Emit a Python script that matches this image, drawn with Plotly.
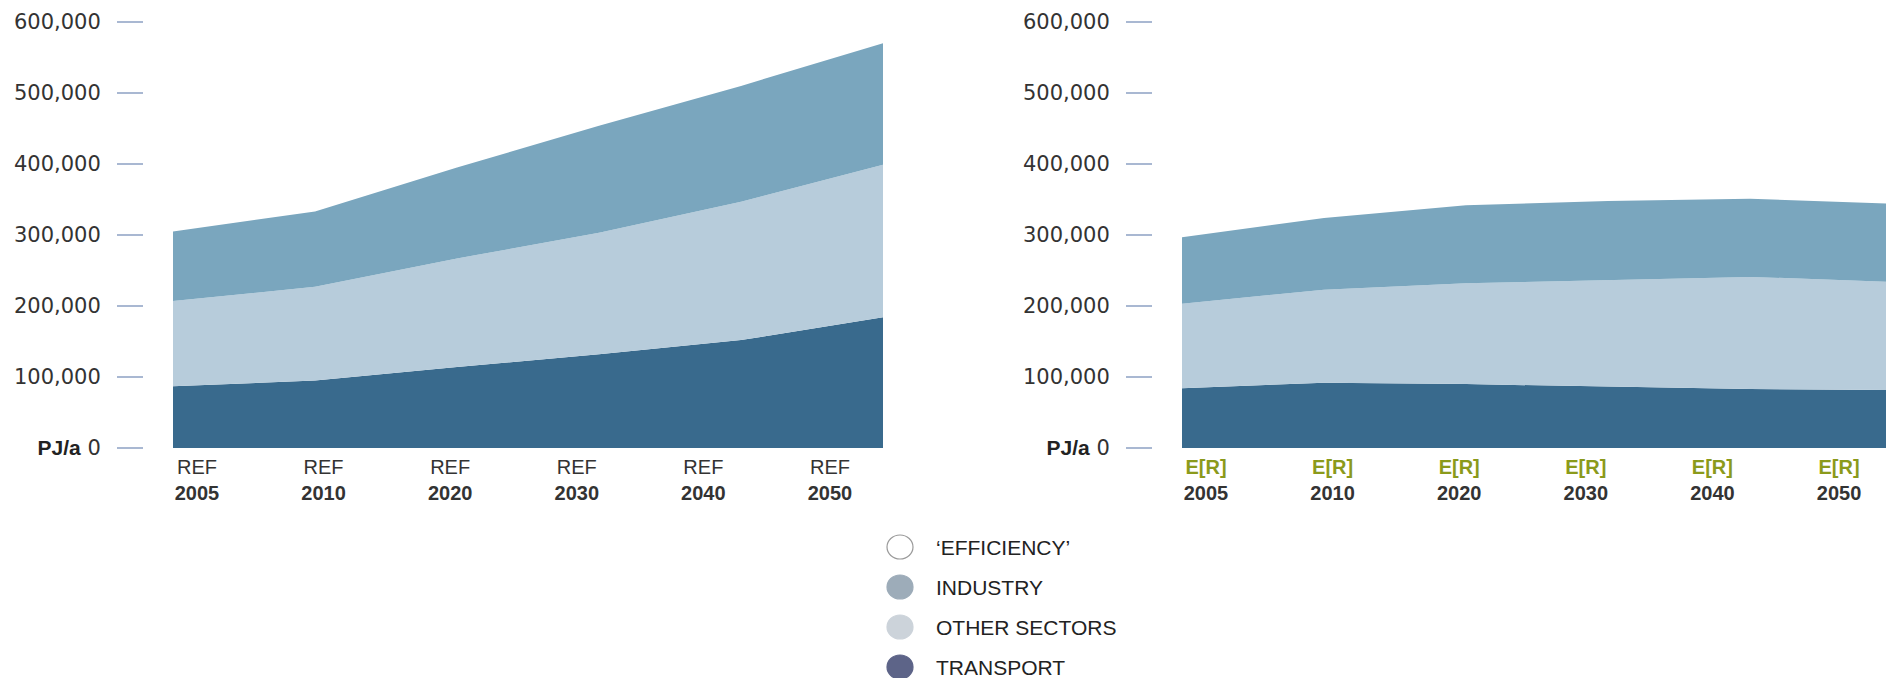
import plotly.graph_objects as go

years = ["2005", "2010", "2020", "2030", "2040", "2050"]

# REF scenario, PJ/a
ref_transport = [87000, 95000, 114000, 132000, 152000, 184000]
ref_other = [120000, 132000, 153000, 171000, 195000, 215000]
ref_industry = [98000, 106000, 128000, 151000, 163000, 171000]

# E[R] scenario, PJ/a
er_transport = [84000, 92000, 90000, 86000, 83000, 81500]
er_other = [119000, 131000, 142000, 151000, 158000, 152500]
er_industry = [94000, 101000, 110000, 111000, 110000, 110000]

yticks = [0, 100000, 200000, 300000, 400000, 500000, 600000]
ytext = ['<span style="font-family:Liberation Sans;font-weight:bold;color:#222">PJ/a</span> 0',
         "100,000", "200,000", "300,000", "400,000", "500,000", "600,000"]

legend_labels = ["\u2018EFFICIENCY\u2019", "INDUSTRY", "OTHER SECTORS", "TRANSPORT"]
legend_colors = ["#ffffff", "#9dacb9", "#ccd3da", "#5d6488"]

area_colors = {"transport": "#396a8d", "other": "#b7ccdb", "industry": "#7aa6be"}

W, H = 1886, 678

fig = go.Figure()


def add_stack(xa, ya, transport, other, industry, grp):
    for name, vals in [("transport", transport), ("other", other), ("industry", industry)]:
        fig.add_trace(go.Scatter(x=years, y=vals, xaxis=xa, yaxis=ya, stackgroup=grp,
                                 mode="lines", line=dict(width=0),
                                 fillcolor=area_colors[name], showlegend=False,
                                 hoverinfo="skip"))


add_stack("x", "y", ref_transport, ref_other, ref_industry, "ref")
add_stack("x2", "y2", er_transport, er_other, er_industry, "er")

# invisible traces so the label axes get drawn
fig.add_trace(go.Scatter(x=years, y=ref_transport, xaxis="x3", yaxis="y", mode="lines",
                         line=dict(width=0), showlegend=False, hoverinfo="skip"))
fig.add_trace(go.Scatter(x=years, y=er_transport, xaxis="x4", yaxis="y2", mode="lines",
                         line=dict(width=0), showlegend=False, hoverinfo="skip"))

ydom = [(H - 448) / H, (H - 22) / H]
yax = dict(domain=ydom, range=[0, 600000], anchor="free", side="left",
           ticks="outside", ticklen=26, tickwidth=1.5, tickcolor="#a9b8d2",
           showline=False, showgrid=False, zeroline=False, automargin=False,
           tickmode="array", tickvals=yticks, ticktext=ytext,
           tickfont=dict(family="DejaVu Sans", size=21, color="#333333"),
           ticklabelstandoff=12)

xdata = dict(type="category", categoryarray=years, showgrid=False, zeroline=False,
             showline=False, showticklabels=False, ticks="", automargin=False)
xlab = dict(type="category", categoryarray=years, showgrid=False, zeroline=False,
            showline=False, ticks="", tickmode="array", tickvals=years, automargin=False,
            ticklabelstandoff=5,
            tickfont=dict(family="Liberation Sans", size=20, color="#333333"))

ref_text = ["REF<br><b>%s</b>" % y for y in years]
er_text = ['<b><span style="color:#8b9a1b">E[R]</span></b><br><b>%s</b>' % y for y in years]

fig.update_layout(
    width=W, height=H, autosize=False,
    margin=dict(l=0, r=0, t=0, b=0, autoexpand=False),
    paper_bgcolor="white", plot_bgcolor="rgba(0,0,0,0)",
    showlegend=False,
    xaxis=dict(xdata, domain=[173 / W, 883 / W], range=[0, 5], anchor="y"),
    xaxis2=dict(xdata, domain=[1182 / W, 1.0], range=[0, 704 / 142], anchor="y2"),
    xaxis3=dict(xlab, domain=[173 / W, 883 / W], range=[-0.1896, 5.419],
                overlaying="x", anchor="y", ticktext=ref_text),
    xaxis4=dict(xlab, domain=[1182 / W, 1.0], range=[-0.1896, 5.371],
                overlaying="x2", anchor="y2", ticktext=er_text),
    yaxis=dict(yax, position=143 / W),
    yaxis2=dict(yax, position=1152 / W),
)

# legend drawn as circles + labels
for i, (lab, col) in enumerate(zip(legend_labels, legend_colors)):
    cy = 547 + 40 * i
    fig.add_shape(type="circle", xref="paper", yref="paper",
                  x0=887 / W, x1=913 / W, y0=(H - cy - 12) / H, y1=(H - cy + 12) / H,
                  fillcolor=col, line=dict(color="#9a9a9a" if i == 0 else col, width=1.2))
    fig.add_annotation(x=934 / W, y=(H - cy) / H, xref="paper", yref="paper",
                       text=lab, showarrow=False, xanchor="left", yanchor="middle",
                       font=dict(family="Liberation Sans", size=21, color="#222222"))

fig.write_html("out.html", config={"displayModeBar": False},
               post_script="document.body.style.margin='0';")
